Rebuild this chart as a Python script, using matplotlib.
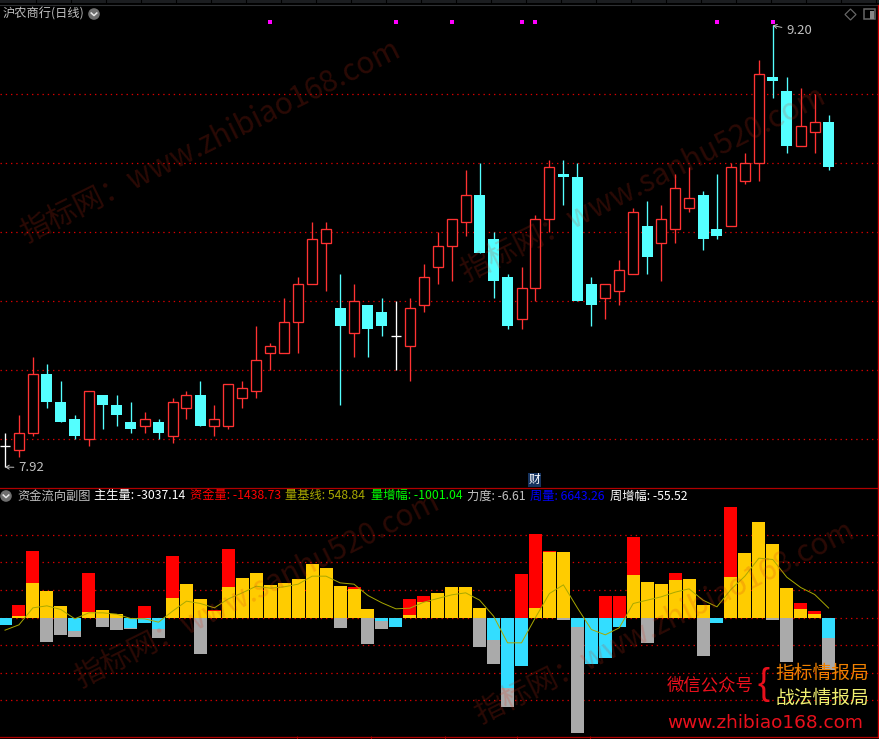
import matplotlib
matplotlib.use("Agg")
import matplotlib.pyplot as plt
from matplotlib.patches import Rectangle, Circle, Polygon

CJK = ['Noto Sans CJK SC', 'DejaVu Sans']
plt.rcParams['font.family'] = CJK
plt.rcParams['axes.unicode_minus'] = False

W, H = 879, 739

# ---- daily candles (price) ----
opens = [7.98,7.97,8.02,8.19,8.11,8.06,8.00,8.13,8.10,8.05,8.04,8.05,8.01,8.09,8.13,8.04,8.04,8.12,8.14,8.25,
         8.25,8.34,8.45,8.57,8.38,8.31,8.39,8.37,8.30,8.27,8.39,8.50,8.56,8.63,8.71,8.58,8.47,8.35,8.44,8.64,
         8.77,8.76,8.45,8.41,8.43,8.48,8.62,8.57,8.61,8.67,8.71,8.61,8.62,8.75,8.80,9.05,9.01,8.85,8.89,8.92]
closes = [7.98,8.02,8.19,8.11,8.05,8.01,8.14,8.10,8.07,8.03,8.06,8.02,8.11,8.13,8.04,8.06,8.16,8.15,8.23,8.27,
          8.34,8.45,8.58,8.61,8.33,8.40,8.32,8.33,8.30,8.38,8.47,8.56,8.64,8.71,8.54,8.46,8.33,8.44,8.64,8.79,
          8.76,8.40,8.39,8.45,8.49,8.66,8.53,8.64,8.73,8.70,8.58,8.59,8.79,8.80,9.06,9.04,8.85,8.91,8.92,8.79]
highs = [8.02,8.07,8.24,8.22,8.17,8.07,8.14,8.13,8.13,8.11,8.08,8.06,8.12,8.14,8.17,8.10,8.16,8.17,8.33,8.28,
         8.41,8.47,8.63,8.63,8.48,8.45,8.39,8.41,8.40,8.41,8.51,8.60,8.64,8.78,8.80,8.60,8.48,8.50,8.65,8.81,
         8.81,8.80,8.47,8.45,8.52,8.67,8.69,8.68,8.77,8.79,8.72,8.77,8.80,8.83,9.10,9.20,9.05,9.02,9.00,8.94]
lows = [7.92,7.95,8.01,8.09,8.05,8.00,7.98,8.03,8.04,8.02,8.02,8.00,7.99,8.06,8.04,8.01,8.03,8.09,8.12,8.20,
        8.25,8.25,8.45,8.43,8.10,8.24,8.24,8.30,8.20,8.17,8.37,8.45,8.46,8.59,8.54,8.41,8.32,8.32,8.40,8.60,
        8.68,8.40,8.33,8.35,8.39,8.48,8.48,8.46,8.57,8.66,8.55,8.58,8.62,8.74,8.75,8.99,8.83,8.85,8.83,8.78]
signal_days = [19, 28, 32, 37, 38, 51, 55]
signal_price = 9.21
price_grid = [8.0, 8.2, 8.4, 8.6, 8.8, 9.0]

# ---- money-flow indicator ----
yellow = [0,116,2030,1566,696,0,348,464,232,0,0,0,1160,1972,1102,406,1798,2320,2610,1914,
          2030,2262,3132,2900,1856,1682,522,0,0,174,928,1450,1798,1798,580,0,0,0,580,3828,
          3828,0,0,0,0,2494,2088,1972,2204,2262,754,0,2378,3770,5568,4292,1740,522,232,0]
red = [0,754,3886,0,0,0,2610,0,0,0,696,0,3596,0,0,464,4002,0,0,0,
       0,0,0,0,0,1798,0,0,0,1102,1276,0,0,0,0,0,0,2552,4872,3886,
       0,0,0,1276,1276,4698,0,0,2610,0,0,0,6438,0,0,0,0,870,406,0]
gray = [0,0,0,-1392,-986,-1102,0,-522,-696,-638,0,-1160,0,0,-2088,0,0,0,0,0,
        0,0,0,0,-580,0,-1508,-638,0,0,0,0,0,0,-1682,-2668,-5162,0,0,0,
        -116,-6670,0,0,0,0,-1450,0,0,0,-2204,0,0,0,0,-116,-2552,0,0,-3037]
cyan = [-406,0,0,0,0,-754,0,0,0,-580,-290,-638,0,0,0,0,0,0,0,0,
        0,0,0,0,0,0,0,-174,-522,0,0,0,0,0,0,-1276,-4060,-2784,0,0,
        0,-522,-2668,-2320,-522,0,0,0,0,0,0,-290,0,0,0,0,0,0,0,-1160]
base_line = [-735,-425,560,677,464,-77,271,271,193,-58,-77,-271,367,947,812,560,1083,1431,1817,1701,
             1779,1933,2397,2397,2010,1933,1276,851,503,541,889,1102,1315,1431,1005,77,-1469,-1469,0,1392,
             1894,560,-696,-1005,-599,812,1005,1199,1469,1663,1005,619,1624,2397,3441,3364,2339,1740,1334,549]
flow_grid = [-4800,-3200,-1600,0,1600,3200,4800]
tick_days = [20.9, 26.2, 31.5, 36.7, 41.9]

BG = '#000000'
CANDLE_RED = '#ff3232'
CANDLE_CYAN = '#54ffff'
GRID = '#d80000'
FRAME = '#b00000'
LABEL = '#c0c0c0'

px = 1 / 100
fig = plt.figure(figsize=(W * px, H * px), dpi=100, facecolor=BG)


def pane(y0, y1):
    return fig.add_axes([0, 1 - y1 / H, 878 / W, (y1 - y0) / H], facecolor=BG)


def ftext(x, y, s, **kw):
    kw.setdefault('va', 'center')
    kw.setdefault('ha', 'left')
    return fig.text(x / W, 1 - y / H, s, **kw)


top = pane(5, 487)
low = pane(488, 736)
days = list(range(len(opens)))
x0, x1 = (0 - 5) / 13.96, (878 - 5) / 13.96
for ax in (top, low):
    ax.set_xlim(x0, x1)
    for s in ax.spines.values():
        s.set_visible(False)
    ax.set_yticks([])
    ax.set_xticks([])
top.set_ylim(8 + (439.5 - 487) / 345, 8 + (439.5 - 5) / 345)
low.set_ylim((617.5 - 736) * 58, (617.5 - 488) * 58)

DOT = (0, (1.1, 3.1))
top.hlines(price_grid, x0, x1, colors=GRID, lw=0.9, linestyles=[DOT], zorder=1)
low.hlines(flow_grid, x0, x1, colors=GRID, lw=0.9, linestyles=[DOT], zorder=1)

# candles
for d, o, c, h, l in zip(days, opens, closes, highs, lows):
    col = CANDLE_RED if c > o else CANDLE_CYAN if c < o else '#ffffff'
    top.vlines(d, l, h, colors=col, lw=0.95, zorder=2)
    if c > o:
        top.bar(d, c - o, bottom=o, width=10 / 13.96, facecolor=BG, edgecolor=col, lw=0.95, zorder=3)
    elif c < o:
        top.bar(d, o - c, bottom=c, width=11 / 13.96, color=col, lw=0, zorder=3)
    else:
        top.hlines(c, d - 5 / 13.96, d + 5 / 13.96, colors=col, lw=0.95, zorder=3)
top.scatter(signal_days, [signal_price] * len(signal_days), s=7, marker='s', color='#ff00ff', lw=0, zorder=4)

# flow bars
bw = 13 / 13.96
low.bar(days, red, width=bw, color='#ff0000', lw=0, zorder=2)
low.bar(days, yellow, width=bw, color='#ffcc00', lw=0, zorder=3)
low.bar(days, gray, width=bw, color='#aaaaaa', lw=0, zorder=2)
low.bar(days, cyan, width=bw, color='#33ddff', lw=0, zorder=3)
low.plot(days, base_line, color='#a8a800', lw=0.7, zorder=4)
low.set_xticks(tick_days)
low.set_xticklabels([])
low.tick_params(axis='x', colors=FRAME, length=2.2, width=0.8, direction='out')

# frame
fig.add_artist(Rectangle((0, 1 - 3.4 / H), 1, 3.4 / H, transform=fig.transFigure, color='#1b1d20', lw=0))
for k in range(1, 26):
    fig.add_artist(plt.Line2D([(k * 35 + 1) / W] * 2, [1 - 3.4 / H, 1], color='#000000', lw=0.8))
fig.add_artist(plt.Line2D([0, 1], [1 - 4.5 / H] * 2, color='#2e3033', lw=0.8))
for y in (487.5, 736.5):
    fig.add_artist(plt.Line2D([0, 878 / W], [1 - y / H] * 2, color=FRAME, lw=0.9))
fig.add_artist(plt.Line2D([878 / W] * 2, [1 - 5 / H, 1 - 737 / H], color='#d00000', lw=1.0))


def chevron(cx, cy):
    ax_c = fig.add_axes([(cx - 6) / W, 1 - (cy + 6) / H, 12 / W, 12 / H], facecolor='none')
    ax_c.set_xlim(-6, 6)
    ax_c.set_ylim(-6, 6)
    ax_c.axis('off')
    ax_c.add_patch(Circle((0, 0), 5.8, color='#6e6e6e', lw=0))
    ax_c.plot([-2.8, 0, 2.8], [1, -1.6, 1], color='#e8e8e8', lw=1.1)


chevron(94, 14)
chevron(6, 496)

# top-right icons
ax_i = fig.add_axes([840 / W, 1 - 24 / H, 38 / W, 20 / H], facecolor='none')
ax_i.set_xlim(840, 878)
ax_i.set_ylim(24, 4)
ax_i.axis('off')
ax_i.add_patch(Polygon([(850.5, 9), (856, 14.5), (850.5, 20), (845, 14.5)], fill=False, ec='#666666', lw=0.9))
ax_i.add_patch(Rectangle((864, 9.5), 11, 10, fill=False, ec='#666666', lw=1.1))
ax_i.add_patch(Rectangle((870, 10.5), 4, 8, color='#888888', lw=0))

# headers
F = 8.8
ftext(3, 14, '沪农商行(日线)', color=LABEL, fontsize=F)
header = [(17, '资金流向副图', LABEL), (94, '主生量: -3037.14', '#ffffff'), (190, '资金量: -1438.73', '#ff0000'),
          (285, '量基线: 548.84', '#a8a800'), (371, '量增幅: -1001.04', '#00ff00'),
          (467, '力度: -6.61', LABEL), (530, '周量: 6643.26', '#0000ff'), (610, '周增幅: -55.52', '#ffffff')]
for x, s, c in header:
    ftext(x, 496, s, color=c, fontsize=F)

# extreme labels
top.annotate('9.20', xy=(55, 9.20), xytext=(786, 739 - 31), textcoords='figure pixels', color=LABEL, fontsize=9.5,
             va='center', arrowprops=dict(arrowstyle='->,head_length=0.25,head_width=0.15', color=LABEL, lw=0.7, shrinkA=1, shrinkB=0))
top.annotate('7.92', xy=(0, 7.92), xytext=(18, 739 - 467.5), textcoords='figure pixels', color=LABEL, fontsize=9.5,
             va='center', arrowprops=dict(arrowstyle='->,head_length=0.25,head_width=0.15', color=LABEL, lw=0.7, shrinkA=1, shrinkB=0))

# marker 财
fig.add_artist(Rectangle((528 / W, 1 - 487 / H), 13 / W, 14 / H, transform=fig.transFigure, color='#16335f', lw=0))
ftext(534.5, 479.5, '财', color='#ffffff', fontsize=8.5, ha='center')

# watermarks
WM = dict(color='#d83018', alpha=0.2, fontsize=21.5, rotation=26.5, rotation_mode='anchor', va='baseline', zorder=10)
ftext(26, 243, '指标网：www.zhibiao168.com', **WM)
ftext(466, 282, '指标网：www.sanhu520.com', **WM)
ftext(80, 688, '指标网：www.sanhu520.com', **WM)
ftext(480, 724, '指标网：www.zhibiao168.com', **WM)

# logo
ftext(667, 685.5, '微信公众号', color='#e8101c', fontsize=12.5, zorder=11)
ftext(763, 684, '{', color='#e8101c', fontsize=26, ha='center', zorder=11, family=['Liberation Sans'])
ftext(775, 673.5, '指标情报局', color='#f08000', fontsize=13.5, zorder=11)
ftext(775, 698.5, '战法情报局', color='#f0f070', fontsize=13.5, zorder=11)
ftext(667, 723, 'www.zhibiao168.com', color='#e8101c', fontsize=13.3, zorder=11, family=['DejaVu Sans'])

fig.savefig('out.png', dpi=100, facecolor=BG)
